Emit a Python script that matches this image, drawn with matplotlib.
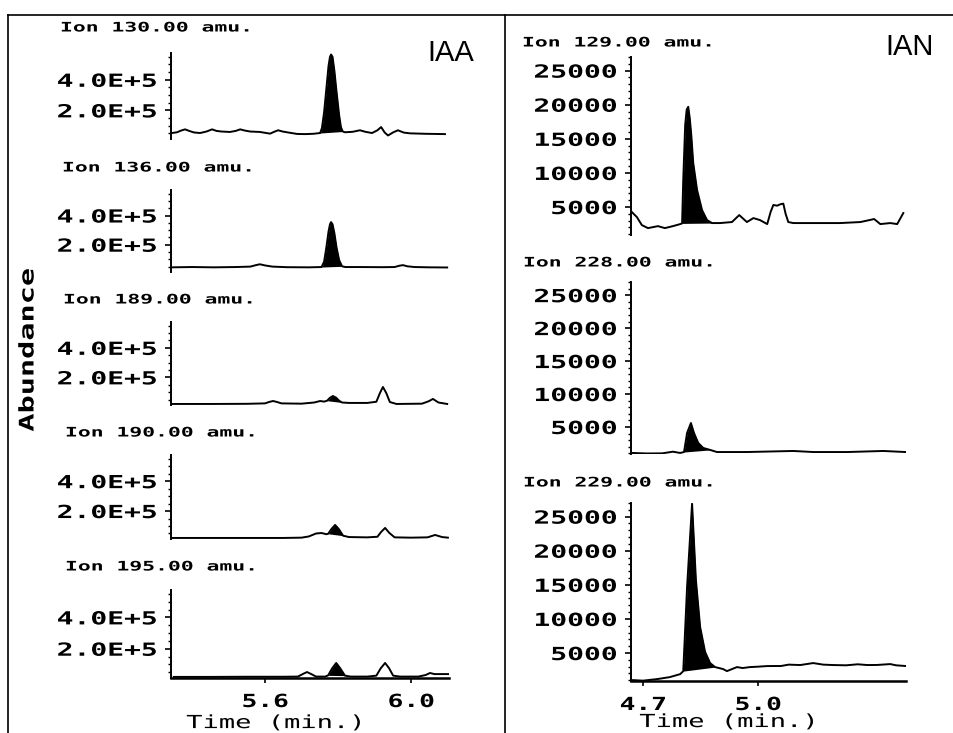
import numpy as np
import matplotlib
matplotlib.use('Agg')
import matplotlib.pyplot as plt
import matplotlib.patheffects as pe
from matplotlib.transforms import Affine2D
from matplotlib.lines import Line2D
from matplotlib.ticker import MultipleLocator

plt.rcParams['font.family'] = ['DejaVu Sans Mono', 'DejaVu Sans']
plt.rcParams['font.weight'] = 'bold'

W, H = 954, 733

# ---------------- IAA (left column) ----------------
iaa_ions = ['Ion 130.00 amu.', 'Ion 136.00 amu.', 'Ion 189.00 amu.',
            'Ion 190.00 amu.', 'Ion 195.00 amu.']
iaa_xlim = (5.3425, 6.104)
iaa_ylim = (0.13e5, 5.75e5)
iaa_yticks = [2.0e5, 4.0e5]
iaa_yticklabels = ['2.0E+5', '4.0E+5']
iaa_xticks = [5.6, 6.0]
iaa_xticklabels = ['5.6', '6.0']

# retention time (min) and abundance (x1E+5)
t130 = [5.345, 5.359, 5.370, 5.381, 5.392, 5.405, 5.422, 5.440, 5.455, 5.467,
        5.480, 5.504, 5.520, 5.532, 5.545, 5.559, 5.586, 5.614, 5.625, 5.636,
        5.648, 5.660, 5.688, 5.710, 5.732, 5.751, 5.756, 5.762, 5.768, 5.774,
        5.778, 5.781, 5.785, 5.790, 5.796, 5.803, 5.808, 5.813, 5.819, 5.840,
        5.860, 5.875, 5.893, 5.908, 5.918, 5.928, 5.937, 5.950, 5.964, 5.980,
        5.997, 6.040, 6.093]
a130 = [0.52, 0.57, 0.68, 0.76, 0.66, 0.56, 0.52, 0.62, 0.76, 0.66,
        0.62, 0.59, 0.66, 0.76, 0.68, 0.62, 0.59, 0.48, 0.60, 0.70,
        0.62, 0.57, 0.46, 0.45, 0.47, 0.52, 0.85, 1.90, 3.40, 4.90,
        5.50, 5.65, 5.50, 4.60, 3.20, 1.70, 0.90, 0.62, 0.57, 0.60,
        0.70, 0.60, 0.52, 0.70, 0.91, 0.55, 0.36, 0.55, 0.70, 0.55,
        0.50, 0.47, 0.45]

t136 = [5.345, 5.400, 5.460, 5.520, 5.560, 5.575, 5.586, 5.600, 5.620, 5.660,
        5.720, 5.755, 5.762, 5.768, 5.774, 5.778, 5.781, 5.785, 5.790, 5.796,
        5.803, 5.811, 5.820, 5.860, 5.920, 5.955, 5.968, 5.978, 5.990, 6.010,
        6.050, 6.099]
a136 = [0.45, 0.47, 0.45, 0.47, 0.50, 0.60, 0.66, 0.58, 0.50, 0.46,
        0.45, 0.47, 0.85, 1.80, 2.90, 3.40, 3.55, 3.40, 2.80, 1.80,
        0.95, 0.52, 0.47, 0.47, 0.46, 0.47, 0.56, 0.60, 0.52, 0.47,
        0.45, 0.44]

t189 = [5.347, 5.450, 5.550, 5.600, 5.612, 5.622, 5.632, 5.645, 5.700, 5.735,
        5.751, 5.762, 5.770, 5.778, 5.786, 5.795, 5.803, 5.811, 5.830, 5.880,
        5.905, 5.915, 5.923, 5.932, 5.942, 5.960, 6.030, 6.048, 6.060, 6.075,
        6.099]
a189 = [0.20, 0.20, 0.21, 0.24, 0.34, 0.40, 0.34, 0.24, 0.22, 0.30,
        0.40, 0.36, 0.42, 0.62, 0.74, 0.62, 0.42, 0.30, 0.27, 0.27,
        0.35, 0.95, 1.35, 0.95, 0.33, 0.20, 0.22, 0.38, 0.54, 0.30,
        0.20]

t190 = [5.347, 5.450, 5.550, 5.650, 5.700, 5.720, 5.740, 5.755, 5.768, 5.773,
        5.782, 5.792, 5.802, 5.814, 5.830, 5.880, 5.908, 5.918, 5.929, 5.940,
        5.955, 6.000, 6.045, 6.066, 6.085, 6.101]
a190 = [0.20, 0.20, 0.20, 0.20, 0.22, 0.30, 0.50, 0.53, 0.45, 0.48,
        0.80, 1.07, 0.80, 0.35, 0.26, 0.24, 0.28, 0.60, 0.87, 0.55,
        0.24, 0.22, 0.24, 0.40, 0.26, 0.22]

t195 = [5.350, 5.450, 5.550, 5.650, 5.690, 5.705, 5.715, 5.725, 5.740, 5.765,
        5.773, 5.784, 5.795, 5.806, 5.819, 5.835, 5.880, 5.905, 5.917, 5.929,
        5.940, 5.951, 5.970, 6.020, 6.040, 6.052, 6.064, 6.080, 6.104]
a195 = [0.20, 0.20, 0.21, 0.21, 0.22, 0.40, 0.51, 0.40, 0.22, 0.22,
        0.30, 0.75, 1.09, 0.75, 0.28, 0.22, 0.22, 0.28, 0.75, 1.09,
        0.75, 0.28, 0.22, 0.22, 0.32, 0.45, 0.38, 0.38, 0.38]

iaa_times = [t130, t136, t189, t190, t195]
iaa_abund_e5 = [a130, a136, a189, a190, a195]
iaa_fill = [(5.751, 5.813), (5.755, 5.811), (5.770, 5.811),
            (5.773, 5.814), (5.773, 5.819)]

# ---------------- IAN (right column) ----------------
ian_ions = ['Ion 129.00 amu.', 'Ion 228.00 amu.', 'Ion 229.00 amu.']
ian_xlim = (4.6687, 5.386)
ian_ylim = (900, 27000)
ian_yticks = [5000, 10000, 15000, 20000, 25000]
ian_yticklabels = ['5000', '10000', '15000', '20000', '25000']
ian_xticks = [4.7, 5.0]
ian_xticklabels = ['4.7', '5.0']

t129 = [4.671, 4.684, 4.697, 4.713, 4.739, 4.757, 4.778, 4.797, 4.802, 4.805,
        4.810, 4.814, 4.818, 4.822, 4.826, 4.831, 4.841, 4.854, 4.867, 4.880,
        4.901, 4.932, 4.951, 4.971, 4.988, 5.005, 5.024, 5.033, 5.040, 5.050,
        5.058, 5.066, 5.072, 5.079, 5.092, 5.154, 5.214, 5.267, 5.303, 5.319,
        5.345, 5.363, 5.379]
a129 = [4260, 3530, 2350, 1910, 2200, 1910, 2200, 2500, 2600, 9000,
        17000, 19300, 19700, 18000, 15500, 11470, 7500, 4560, 3090, 2650,
        2650, 2800, 3820, 2800, 3380, 3090, 2500, 4300, 5300, 5200,
        5400, 5500, 4000, 2800, 2650, 2650, 2650, 2800, 3240, 2500,
        2650, 2500, 4120]

t228 = [4.671, 4.710, 4.750, 4.778, 4.797, 4.807, 4.815, 4.825, 4.833, 4.844,
        4.857, 4.875, 4.893, 4.971, 5.092, 5.144, 5.233, 5.327, 5.384]
a228 = [1060, 980, 1000, 1250, 1060, 1200, 4090, 5600, 4090, 2580,
        1820, 1520, 1200, 1200, 1360, 1200, 1200, 1360, 1200]

t229 = [4.674, 4.700, 4.737, 4.770, 4.797, 4.805, 4.815, 4.828, 4.838, 4.849,
        4.862, 4.875, 4.888, 4.909, 4.919, 4.930, 4.945, 4.960, 4.979, 5.000,
        5.024, 5.060, 5.080, 5.110, 5.144, 5.170, 5.196, 5.230, 5.260, 5.285,
        5.310, 5.345, 5.360, 5.387]
a229 = [1030, 950, 1180, 1470, 1910, 2350, 14700, 26900, 15700, 8820,
        5150, 3530, 2940, 2650, 2350, 2600, 2940, 2800, 2940, 3000,
        3090, 3100, 3300, 3240, 3530, 3300, 3240, 3200, 3350, 3240,
        3250, 3380, 3200, 3090]

ian_times = [t129, t228, t229]
ian_abund = [a129, a228, a229]
ian_fill = [(4.802, 4.880), (4.807, 4.875), (4.805, 4.888)]


class HStretch(pe.AbstractPathEffect):
    """Widen glyphs horizontally (plotter-style letter spacing)."""
    def __init__(self, sx, frac=0.0):
        super().__init__()
        self._sx = sx
        self._frac = frac

    def draw_path(self, renderer, gc, tpath, affine, rgbFace=None):
        x1 = tpath.get_extents().x1
        pre = Affine2D().scale(self._sx, 1.0).translate(
            self._frac * x1 * (1.0 - self._sx), 0.0)
        renderer.draw_path(gc, tpath, pre + affine, rgbFace)


def rect(left, top, right, bottom):
    return [left / W, 1 - bottom / H, (right - left) / W, (bottom - top) / H]


def fill_peak(ax, t, a, t0, t1):
    t = np.asarray(t, float)
    a = np.asarray(a, float)
    m = (t >= t0 - 1e-9) & (t <= t1 + 1e-9)
    base = np.interp(t[m], [t0, t1], [np.interp(t0, t, a), np.interp(t1, t, a)])
    ax.fill_between(t[m], a[m], base, color='black', lw=0)


TICK_FS = 13.0
LBL_STRETCH = 1.55


def style(ax, yticks, ylabels, yminor, bottom, xticks=None, xlabels=None,
          xlabel_pos=None):
    for s in ('top', 'right'):
        ax.spines[s].set_visible(False)
    ax.spines['left'].set_linewidth(1.4)
    ax.spines['bottom'].set_visible(bottom)
    ax.spines['bottom'].set_linewidth(1.8)
    ax.patch.set_visible(False)
    ax.set_yticks(yticks)
    ax.set_yticklabels(ylabels)
    ax.yaxis.set_minor_locator(MultipleLocator(yminor))
    ax.tick_params(axis='y', which='major', direction='out', length=4.5,
                   width=1.2, pad=5.5, labelsize=TICK_FS)
    ax.tick_params(axis='y', which='minor', direction='out', length=2.3,
                   width=1.0)
    for lbl in ax.get_yticklabels():
        lbl.set_path_effects([HStretch(LBL_STRETCH, 1.0)])
    if bottom:
        ax.set_xticks(xticks)
        ax.set_xticklabels(xlabels)
        ax.tick_params(axis='x', which='major', direction='out', length=3.8,
                       width=1.2, pad=7, labelsize=TICK_FS)
        ax.tick_params(axis='x', which='minor', length=0)
        for lbl in ax.get_xticklabels():
            lbl.set_path_effects([HStretch(1.45, 0.5)])
        ax.set_xlabel('Time (min.)', fontsize=TICK_FS)
        ax.xaxis.set_label_coords(*xlabel_pos)
        ax.xaxis.label.set_path_effects([HStretch(1.5, 0.5)])
    else:
        ax.set_xticks([])


fig = plt.figure(figsize=(W / 100, H / 100), dpi=100)
fig.patch.set_facecolor('white')

# frame
for (x0, y0, x1, y1) in [(8, 15, 954, 15), (8, 15, 8, 733), (505, 15, 505, 733)]:
    fig.add_artist(Line2D([x0 / W, x1 / W], [1 - y0 / H, 1 - y1 / H],
                          transform=fig.transFigure, color='black', lw=1.2))

iaa_rows = [(53, 139), (190, 272), (322, 405), (455, 539), (590, 678)]
iaa_title_xy = [(60, 28), (62, 168), (63, 300), (65, 433), (65, 567)]
for i in range(5):
    top, bot = iaa_rows[i]
    ax = fig.add_axes(rect(171, top, 449, bot))
    t = iaa_times[i]
    a = np.asarray(iaa_abund_e5[i]) * 1e5
    ax.plot(t, a, color='black', lw=1.4, solid_joinstyle='round')
    fill_peak(ax, t, a, *iaa_fill[i])
    ax.set_xlim(*iaa_xlim)
    ax.set_ylim(*iaa_ylim)
    last = (i == 4)
    style(ax, iaa_yticks, iaa_yticklabels, 0.5e5, last,
          iaa_xticks, iaa_xticklabels, (0.374, -0.41))
    tx, ty = iaa_title_xy[i]
    fig.text(tx / W, 1 - ty / H, iaa_ions[i], fontsize=9.5, ha='left',
             va='center', path_effects=[HStretch(1.62, 0.0)])

ian_rows = [(57, 235), (282, 454), (503, 681)]
ian_title_xy = [(522, 43), (523, 263), (523, 483)]
for i in range(3):
    top, bot = ian_rows[i]
    ax = fig.add_axes(rect(631, top, 906, bot))
    t = ian_times[i]
    a = ian_abund[i]
    ax.plot(t, a, color='black', lw=1.4, solid_joinstyle='round')
    fill_peak(ax, t, a, *ian_fill[i])
    ax.set_xlim(*ian_xlim)
    ax.set_ylim(*ian_ylim)
    last = (i == 2)
    style(ax, ian_yticks, ian_yticklabels, 1000, last,
          ian_xticks, ian_xticklabels, (0.353, -0.18))
    tx, ty = ian_title_xy[i]
    fig.text(tx / W, 1 - ty / H, ian_ions[i], fontsize=9.5, ha='left',
             va='center', path_effects=[HStretch(1.62, 0.0)])

fig.text(28 / W, 1 - 350 / H, 'Abundance', fontsize=14.5, rotation=90,
         ha='center', va='center', path_effects=[HStretch(1.5, 0.5)])
fig.text(427 / W, 1 - 53 / H, 'IAA', fontsize=21, family='Liberation Sans',
         weight='normal', ha='left', va='center')
fig.text(885 / W, 1 - 47 / H, 'IAN', fontsize=21, family='Liberation Sans',
         weight='normal', ha='left', va='center')

fig.savefig('out.png', dpi=100, facecolor='white')
